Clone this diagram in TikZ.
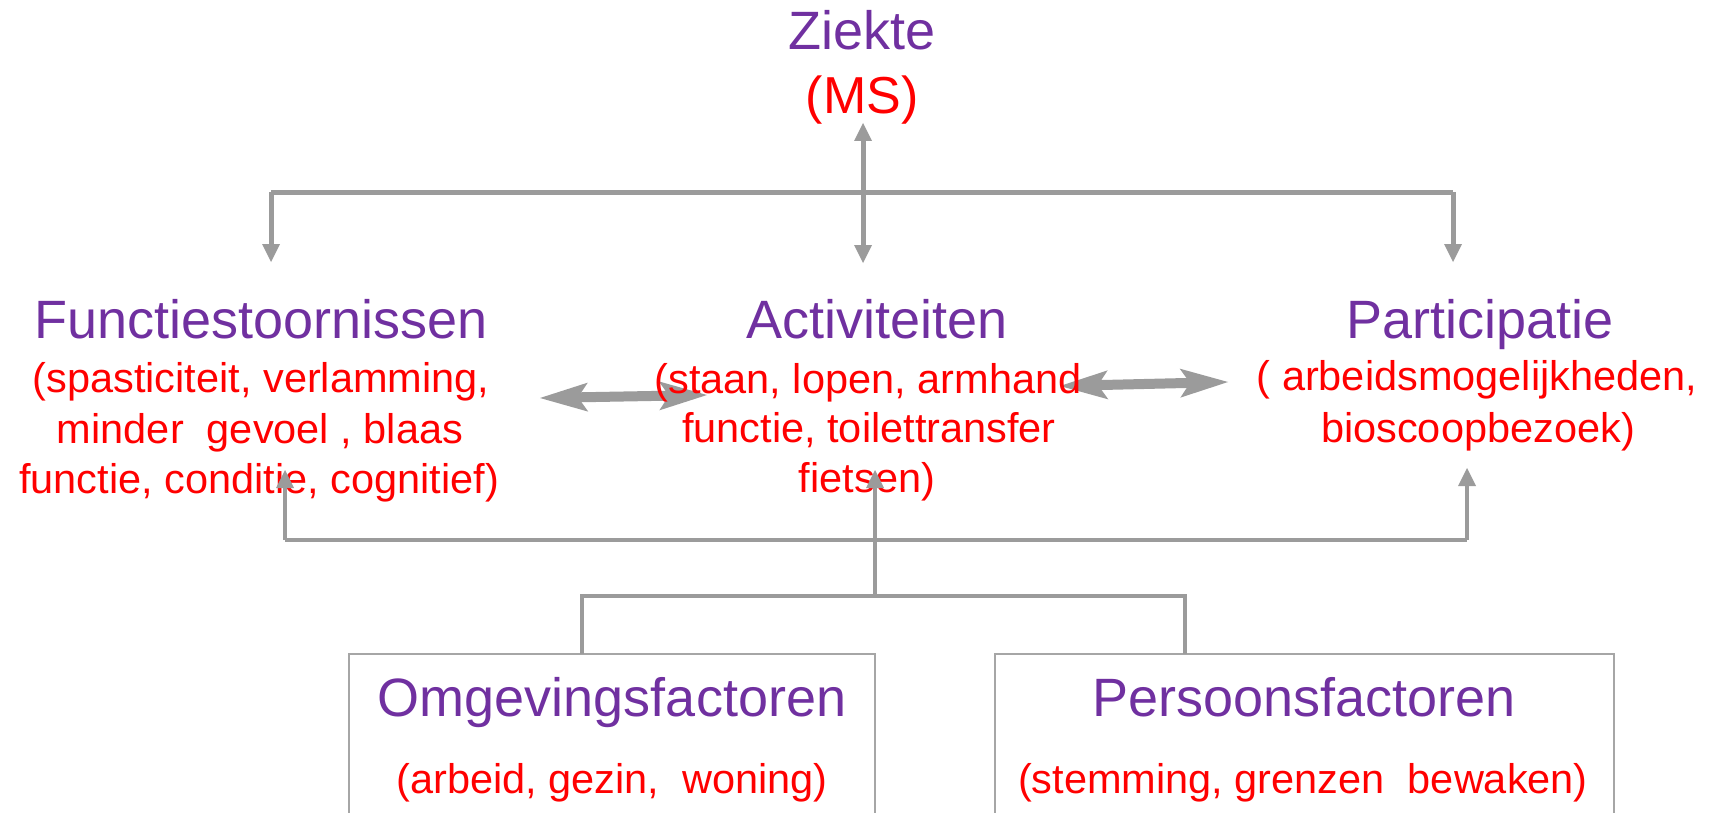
\documentclass[tikz,border=0pt]{standalone}
\usepackage{fontspec}
\setmainfont{Liberation Sans}
\usetikzlibrary{arrows.meta}
\definecolor{ppl}{HTML}{7030A0}
\definecolor{rd}{HTML}{FF0000}
\definecolor{ln}{HTML}{9B9B9B}
\definecolor{bx}{HTML}{A6A6A6}
\begin{document}
\begin{tikzpicture}[x=0.5pt,y=-0.5pt,
  title/.style={text=ppl, font=\fontsize{27}{32}\selectfont, inner sep=0pt, anchor=base},
  detail/.style={text=rd, font=\fontsize{20.75}{25}\selectfont, inner sep=0pt, anchor=base},
  conn/.style={draw=ln, line width=2.5pt},
  connb/.style={draw=ln, line width=2.3pt},
  tipend/.style={-{Triangle[length=9pt,width=9pt,line width=0pt]}},
  tipboth/.style={{Triangle[length=9pt,width=9pt,line width=0pt]}-{Triangle[length=9pt,width=9pt,line width=0pt]}},
  dblarrow/.style={{Stealth[length=24pt,width=14.5pt,inset=5pt,line width=0pt]}-{Stealth[length=24pt,width=14.5pt,inset=5pt,line width=0pt]}, draw=ln, line width=5pt},
  factorbox/.style={draw=bx, line width=1pt, rectangle, inner sep=0pt}]
\useasboundingbox (0,0) rectangle (1714,813);

% coordinates for connectors
\coordinate (zTop) at (863,123);
\coordinate (zBot) at (863,263);
\coordinate (hL) at (271,192);
\coordinate (hR) at (1453,192);
\coordinate (fIn) at (271,262);
\coordinate (pIn) at (1453,262);

\coordinate (faL) at (540,398);
\coordinate (faR) at (707,395);
\coordinate (apL) at (1060,386);
\coordinate (apR) at (1228,382);

\coordinate (bL) at (285,540);
\coordinate (bR) at (1467,540);
\coordinate (fUp) at (285,470);
\coordinate (aUp) at (875,470);
\coordinate (pUp) at (1467,468);
\coordinate (sM) at (875,596);
\coordinate (sL) at (582,596);
\coordinate (sR) at (1185,596);
\coordinate (oTop) at (582,654);
\coordinate (pTop) at (1185,654);

% horizontal double arrows (behind the texts)
\draw[dblarrow] (faL) -- (faR);
\draw[dblarrow] (apL) -- (apR);

% texts
\node[title] (ziekte) at (862,50) {Ziekte};
\node[text=rd, font=\fontsize{26}{30}\selectfont, inner sep=0pt, anchor=base] (ms) at (862,114) {(MS)};

\node[title] (func) at (261,338) {Functiestoornissen};
\node[detail] (func1) at (261,392) {(spasticiteit, verlamming,};
\node[detail] (func2) at (260,443) {minder~ gevoel , blaas};
\node[detail] (func3) at (259,493) {functie, conditie, cognitief)};

\node[title] (act) at (877,338) {Activiteiten};
\node[detail] (act1) at (868,393) {(staan, lopen, armhand};
\node[detail] (act2) at (869,442) {functie, toilettransfer};
\node[detail] (act3) at (867,492) {fietsen)};

\node[title] (part) at (1480,338) {Participatie};
\node[detail] (part1) at (1477,390) {( arbeidsmogelijkheden,};
\node[detail] (part2) at (1478,442) {bioscoopbezoek)};

% factor boxes
\node[factorbox, minimum width=263pt, minimum height=88pt] (omgbox) at (612,742) {};
\node[factorbox, minimum width=309.5pt, minimum height=88pt] (persbox) at (1304.5,742) {};
\node[title] (omg) at (612,716) {Omgevingsfactoren};
\node[detail] (omg1) at (612,793) {(arbeid, gezin,~ woning)};
\node[title] (pers) at (1304,716) {Persoonsfactoren};
\node[detail] (pers1) at (1303,793) {(stemming, grenzen~ bewaken)};

% top connectors
\draw[conn, tipboth] (zTop) -- (zBot);
\draw[conn] (hL) -- (hR);
\draw[conn, tipend] (hL) -- (fIn);
\draw[conn, tipend] (hR) -- (pIn);

% bottom connectors
\draw[connb] (bL) -- (bR);
\draw[connb, tipend] (bL) -- (fUp);
\draw[connb, tipend] (bR) -- (pUp);
\draw[connb, tipend] (sM) -- (aUp);
\draw[connb] (oTop) -- (sL) -- (sR) -- (pTop);
\end{tikzpicture}
\end{document}
